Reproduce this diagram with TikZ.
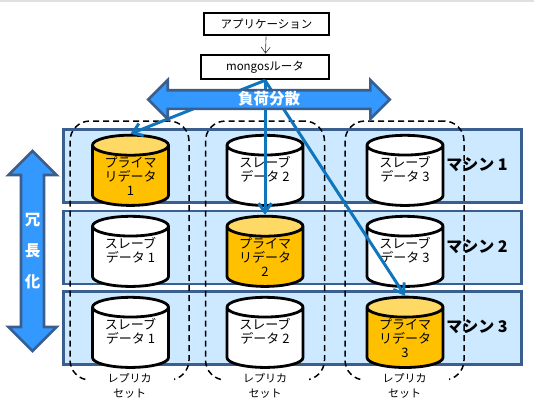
\documentclass[tikz,border=0pt]{standalone}
\usepackage{fontspec}
\setmainfont{Noto Sans CJK JP}
\usetikzlibrary{shapes.geometric,shapes.arrows,arrows.meta}
\definecolor{rowfill}{HTML}{CCE9FF}
\definecolor{rowline}{HTML}{3A5F8F}
\definecolor{bigarrow}{HTML}{3399FF}
\definecolor{link}{HTML}{0F75BD}
\definecolor{primbody}{HTML}{FFC000}
\definecolor{primtop}{HTML}{FFD966}
\tikzset{
  box/.style={draw=black,line width=2.8pt,fill=white,minimum height=22pt,inner sep=0pt,font=\fontsize{11.5}{13}\selectfont},
  machine/.style={draw=rowline,line width=2.7pt,fill=rowfill,minimum width=458pt,minimum height=73pt},
  replica/.style={draw=black,line width=1.5pt,dash pattern=on 6pt off 4pt,rounded corners=20pt,minimum width=119pt,minimum height=259pt},
  db/.style={cylinder,shape border rotate=90,aspect=0.385,draw=black,line width=2.8pt,minimum width=76pt,minimum height=52pt,inner sep=0pt,align=center,font=\fontsize{13}{14}\selectfont,cylinder uses custom fill},
  primary/.style={db,cylinder body fill=primbody,cylinder end fill=primtop},
  secondary/.style={db,cylinder body fill=white,cylinder end fill=white},
  mlabel/.style={inner sep=0pt,font=\fontsize{16}{18}\selectfont\bfseries},
  rlabel/.style={fill=white,inner sep=1pt,minimum width=88pt,align=center,font=\fontsize{11}{15}\selectfont},
  route/.style={draw=link,line width=3pt,-{Straight Barb[length=9pt,width=13pt]}},
  wide/.style={draw=rowline,line width=2.7pt,fill=bigarrow,text=white,inner sep=0pt,double arrow head extend=10pt,align=center,font=\fontsize{15.5}{16}\selectfont\bfseries}
}
\begin{document}
\begin{tikzpicture}[x=1pt,y=-1pt]
  \useasboundingbox (0,0) rectangle (534,415);
  \fill[black!12] (0,0) rectangle (534,2);
  \node[machine] (m1) at (292.5,166) {};
  \node[machine] (m2) at (292.5,247.5) {};
  \node[machine] (m3) at (292.5,328) {};
  \node[replica] (r1) at (129.5,250.5) {};
  \node[replica] (r2) at (265,250.5) {};
  \node[replica] (r3) at (404.5,250.5) {};
  \node[rlabel] (t1) at (129.5,386) {レプリカ\\セット};
  \node[rlabel] (t2) at (265,386) {レプリカ\\セット};
  \node[rlabel] (t3) at (404.5,386) {レプリカ\\セット};
  \node[mlabel] (l1) at (477,165) {マシン 1};
  \node[mlabel] (l2) at (477,247) {マシン 2};
  \node[mlabel] (l3) at (477,327) {マシン 3};
  \node[primary] (c11) at (130.5,176) {プライマ\\リデータ\\1};
  \node[secondary] (c12) at (265,176) {スレーブ\\データ 2\\~};
  \node[secondary] (c13) at (405,176) {スレーブ\\データ 3\\~};
  \node[secondary] (c21) at (130.5,257) {スレーブ\\データ 1\\~};
  \node[primary] (c22) at (265,257) {プライマ\\リデータ\\2};
  \node[secondary] (c23) at (405,257) {スレーブ\\データ 3\\~};
  \node[secondary] (c31) at (130.5,338) {スレーブ\\データ 1\\~};
  \node[secondary] (c32) at (265,338) {スレーブ\\データ 2\\~};
  \node[primary] (c33) at (405,338) {プライマ\\リデータ\\3};
  \node[box,minimum width=125pt] (app) at (266.5,24) {アプリケーション};
  \node[box,minimum width=128pt,minimum height=24pt] (rt) at (265,67) {mongosルータ};
  \draw[-{Straight Barb[length=6pt,width=9pt]},line width=0.6pt,black!80] (app) -- (rt);
  \draw[route] (rt.south) -- (c11.top);
  \draw[route] (rt.south) -- (c22.top);
  \draw[route] (rt.south) -- (c33.top);
  \node[wide,double arrow,minimum height=240pt,minimum width=37pt,text width=220pt,text height=13pt,text depth=3pt] (lb) at (269,99.5) {負荷分散};
  \node[wide,double arrow,shape border rotate=90,minimum height=200pt,minimum width=48pt,text width=16pt] (ha) at (32.5,251) {冗\\[15pt]長\\[15pt]化};
\end{tikzpicture}
\end{document}
